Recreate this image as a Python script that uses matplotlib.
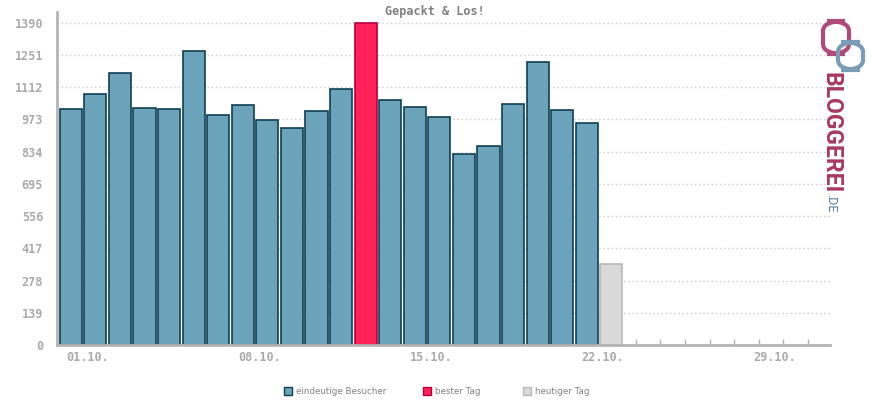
"""Daily unique visitors bar chart (Gepackt & Los!)."""

import matplotlib
matplotlib.use("Agg")
import matplotlib.pyplot as plt
from matplotlib.patches import Rectangle, FancyBboxPatch
from matplotlib.transforms import ScaledTranslation

# data
days = list(range(1, 23))
visitors = [1016, 1081, 1172, 1021, 1016, 1266, 990, 1034, 969, 934, 1008,
            1103, 1390, 1055, 1025, 982, 822, 857, 1038, 1219, 1012, 956]
best_day = 13
today = 23
today_visitors = 348
y_ticks = [0, 139, 278, 417, 556, 695, 834, 973, 1112, 1251, 1390]
x_label_days = [1, 8, 15, 22, 29]
x_labels = ["01.10.", "08.10.", "15.10.", "22.10.", "29.10."]
legend_labels = ["eindeutige Besucher", "bester Tag", "heutiger Tag"]

BLUE, BLUE_EDGE = "#6ba3ba", "#0f3f52"
RED, RED_EDGE = "#ff2157", "#b8003a"
GREY, GREY_EDGE = "#d9d9d9", "#b8b8b8"
AXIS = "#b4b4b4"
TEXT = "#aaaaaa"
MONO = "DejaVu Sans Mono"

fig = plt.figure(figsize=(8.7, 4), dpi=100)
ax = fig.add_axes([57 / 870, 55 / 400, 773 / 870, 333 / 400])

colors = [RED if d == best_day else BLUE for d in days]
edges = [RED_EDGE if d == best_day else BLUE_EDGE for d in days]
ax.bar(days, visitors, width=0.9, color=colors, edgecolor=edges, linewidth=1.2, zorder=2)
ax.bar([today], [today_visitors], width=0.9, color=GREY, edgecolor=GREY_EDGE,
       linewidth=1.2, zorder=2)

ax.set_xlim(0.44, 31.9)
ax.set_ylim(0, 1436)

ax.set_yticks(y_ticks)
ax.set_yticklabels([str(v) for v in y_ticks], family=MONO, fontsize=8.5,
                   color=TEXT, fontweight="bold")
ax.tick_params(axis="y", length=0, pad=10)
ax.yaxis.grid(True, color="#cccccc", linestyle=(0, (1, 2)), linewidth=1, zorder=0)
ax.set_axisbelow(True)

ax.set_xticks(range(1, 32))
ax.set_xticklabels([x_labels[x_label_days.index(d)] if d in x_label_days else ""
                    for d in range(1, 32)], family=MONO, fontsize=8.5,
                   color=TEXT, fontweight="bold")
ax.tick_params(axis="x", direction="in", length=4, width=1, color=AXIS, pad=4)
shift = ScaledTranslation(-0.05, 0, fig.dpi_scale_trans)
for lbl in ax.get_xticklabels():
    lbl.set_horizontalalignment("left")
    lbl.set_transform(lbl.get_transform() + shift)

for side in ("top", "right"):
    ax.spines[side].set_visible(False)
for side in ("left", "bottom"):
    ax.spines[side].set_color(AXIS)
    ax.spines[side].set_linewidth(2)
    ax.spines[side].set_zorder(3)

fig.text(0.5, 1 - 11 / 400, "Gepackt & Los!", ha="center", va="center",
         family=MONO, fontsize=8.5, fontweight="bold", color="#808080")

# legend below the plot
legend_x = [284, 423, 523]
legend_fill = [BLUE, RED, GREY]
legend_edge = [BLUE_EDGE, RED_EDGE, GREY_EDGE]
for x, lab, fc, ec in zip(legend_x, legend_labels, legend_fill, legend_edge):
    fig.add_artist(Rectangle((x / 870, 1 - 395 / 400), 8 / 870, 8 / 400,
                             facecolor=fc, edgecolor=ec, linewidth=1,
                             transform=fig.transFigure))
    fig.text((x + 12) / 870, 1 - 391 / 400, lab, ha="left", va="center",
             fontsize=6.3, color="#808080")

# BLOGGEREI.DE logo
fig.add_artist(FancyBboxPatch((823 / 870, 1 - 54 / 400), 26 / 870, 33 / 400,
                              boxstyle="round,pad=0,rounding_size=0.025",
                              facecolor="none", edgecolor="#b04a78", linewidth=3,
                              transform=fig.transFigure))
fig.add_artist(FancyBboxPatch((838 / 870, 1 - 70 / 400), 25 / 870, 28 / 400,
                              boxstyle="round,pad=0,rounding_size=0.025",
                              facecolor="none", edgecolor="#7a9cb4", linewidth=3,
                              transform=fig.transFigure))
fig.text(831 / 870, 1 - 72 / 400, "BLOGGEREI", rotation=-90, ha="center", va="top",
         family="Roboto", fontweight="bold", fontsize=16.5, color="#a8395f")
fig.text(831 / 870, 1 - 194 / 400, ".DE", rotation=-90, ha="center", va="top",
         family="Roboto", fontsize=9, color="#5a7fa0")

fig.savefig("out.png", dpi=100)
plt.close(fig)
